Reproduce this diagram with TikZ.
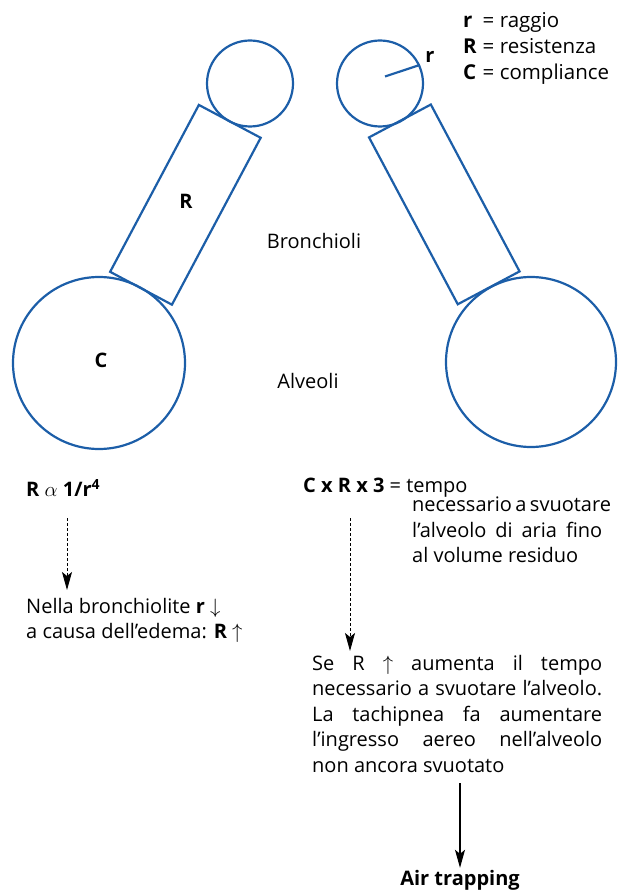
\documentclass[tikz,border=0pt]{standalone}
\usepackage{fontspec}
\setmainfont{Open Sans}
\usetikzlibrary{arrows.meta}
\definecolor{lungblue}{RGB}{28,94,168}
\newcommand{\jl}[2]{\makebox[#1][s]{#2}}
\begin{document}
\begin{tikzpicture}[x=1pt,y=-1pt,
  font=\fontsize{20}{25.5}\selectfont,
  alv/.style={draw=lungblue, line width=2.2pt, circle, inner sep=0pt},
  bronch/.style={draw=lungblue, line width=2.2pt, rectangle, inner sep=0pt,
    minimum width=189pt, minimum height=70pt},
  lbl/.style={inner sep=1pt},
  dasharrow/.style={line width=0.9pt, dash pattern=on 3pt off 2pt,
    -{Stealth[length=18pt,width=10pt,inset=4pt]}},
  solidarrow/.style={line width=1.1pt,
    -{Stealth[length=18pt,width=10pt,inset=4pt]}}]
\useasboundingbox (0,0) rectangle (621,893);
% left unit
\node[alv, minimum size=86pt] (sl) at (250,83.5) {};
\node[bronch, rotate=62] (rl) at (185.4,204.8) {};
\node[alv, minimum size=172pt] (bl) at (99,363) {};
\node[lbl] (Rlab) at (186,201) {\textbf{R}};
\node[lbl] (Clab) at (101,360) {\textbf{C}};
% right unit
\node[alv, minimum size=86pt] (sr) at (380,83.5) {};
\node[bronch, rotate=-62] (rr) at (444.3,204.4) {};
\node[alv, minimum size=170pt] (br) at (531,362) {};
\coordinate (rstart) at (385,76.5);
\draw[lungblue, line width=2.2pt] (rstart) -- (sr.25);
\node[lbl] (rlab) at (430,57) {\textbf{r}};
% legend
\node[anchor=north west, inner sep=0pt] (legend) at (463,9)
  {\fontsize{20.5}{26}\selectfont\begin{tabular}{@{}l@{\hspace{6pt}}l@{}}
   \textbf{r} & = raggio\\
   \textbf{R} & = resistenza\\
   \textbf{C} & = compliance
  \end{tabular}};
% middle labels
\node[lbl] (bronchioli) at (314,241) {Bronchioli};
\node[lbl] (alveoli) at (308,381) {Alveoli};
% formulas
\node[anchor=west, inner sep=0pt] (form1) at (26,488)
  {\textbf{R} $\alpha$ \textbf{1/r\textsuperscript{4}}};
\node[anchor=west, inner sep=0pt] (form2) at (303,488)
  {\textbf{C x R x 3} = tempo};
\node[anchor=north west, inner sep=0pt, align=left] (tempo) at (412,497)
  {\jl{190pt}{necessario a svuotare}\\
   \jl{190pt}{l’alveolo di aria fino}\\
   al volume residuo};
% left result
\node[anchor=north west, inner sep=0pt, align=left] (nella) at (26,598)
  {Nella bronchiolite \textbf{r} $\downarrow$\\
   a causa dell’edema: \textbf{R} $\uparrow$};
% right result
\node[anchor=north west, inner sep=0pt, align=left] (sere) at (312,655)
  {\baselineskip=24.8pt
   \jl{290pt}{Se R $\uparrow$ aumenta il tempo}\\
   \jl{290pt}{necessario a svuotare l’alveolo.}\\
   \jl{290pt}{La tachipnea fa aumentare}\\
   \jl{290pt}{l’ingresso aereo nell’alveolo}\\
   non ancora svuotato};
\node[inner sep=2pt] (air) at (460,880) {\textbf{Air trapping}};
% arrows
\coordinate (la1) at (67,518);
\coordinate (la2) at (67,590);
\draw[dasharrow] (la1) -- (la2);
\coordinate (ra1) at (350,518);
\coordinate (ra2) at (350,651);
\draw[dasharrow] (ra1) -- (ra2);
\coordinate (sa1) at (460,783);
\draw[solidarrow] (sa1) -- (air.north);
\end{tikzpicture}
\end{document}
